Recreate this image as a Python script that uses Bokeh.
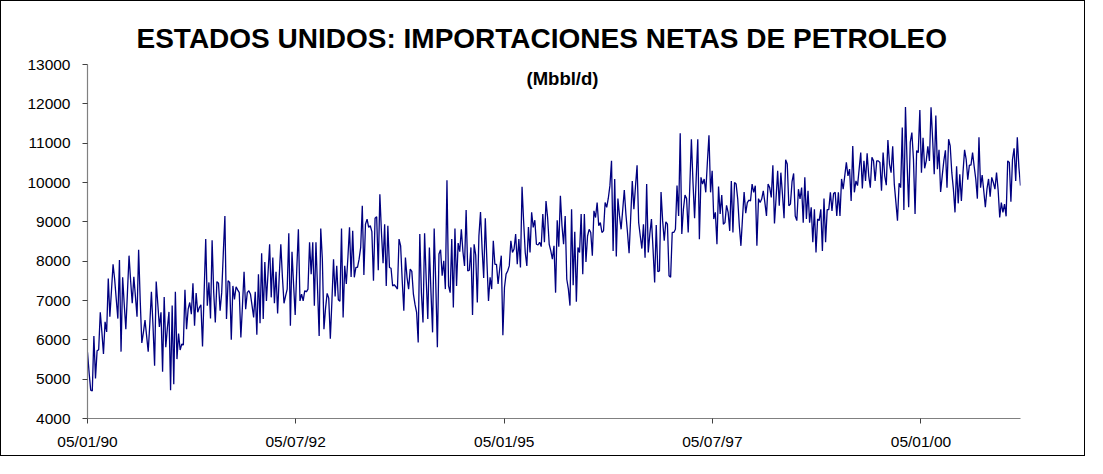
import pandas as pd
from bokeh.plotting import figure
from bokeh.models import Range1d, FixedTicker, DatetimeTickFormatter, Label
from bokeh.embed import file_html
from bokeh.resources import INLINE

# Weekly US net petroleum imports (Mbbl/d), starting 05/01/1990
start_date = "1990-01-05"

imports_1990_91 = [5680, 5170, 4720, 4700, 6100, 5020, 5720, 5750, 6700, 6200, 5640, 6460, 6200, 7560,
                   6590, 7250, 7920, 7540, 7030, 6540, 8030, 5700, 7590, 6900, 6270, 7200, 8140, 7500,
                   6930, 7600, 7100, 6590, 8290, 7000, 5920, 6190, 6500, 6100, 5700, 6400, 7220, 6360,
                   5340, 7480, 6910, 6330, 6700, 5190, 7090, 5810, 6300, 6710, 4720]
imports_1991_92 = [6870, 4870, 7220, 5510, 6160, 5740, 5890, 5870, 7270, 6270, 6780, 6950, 6650, 7440,
                   6360, 7190, 6700, 6820, 6890, 5830, 7200, 8560, 6870, 7460, 6540, 8530, 7200, 6440,
                   7480, 7440, 6740, 7200, 8200, 9150, 6530, 7500, 7460, 6000, 7370, 7030, 7350, 7270,
                   7200, 6060, 6870, 7730, 6780, 7200, 7250, 7160, 6870, 6570, 7220]
imports_1992_93 = [6130, 7670, 6420, 8200, 6530, 7980, 6990, 7700, 8430, 7080, 8090, 6930, 7730, 6670,
                   7600, 8430, 7600, 6930, 7120, 7290, 8710, 6360, 8240, 7400, 6630, 7800, 8810, 6990,
                   7160, 6990, 7250, 7220, 7290, 8480, 7670, 8480, 6870, 8480, 7290, 6100, 8830, 8050,
                   6270, 6800, 7180, 7060, 6030, 7000, 8050, 7100, 7880, 7020, 6980]
imports_1993_94 = [8830, 6570, 7880, 7420, 8100, 8860, 7600, 8770, 7590, 7840, 7840, 8050, 8350, 9410,
                   7650, 8940, 9070, 8860, 8900, 8750, 7500, 9090, 9130, 7770, 9700, 8730, 7950, 8940,
                   7370, 8900, 7840, 7820, 7370, 7400, 7350, 7290, 8560, 8390, 7500, 6740, 8090, 7590,
                   7290, 7800, 7740, 7160, 6900, 6700, 5930, 8690, 7200, 6440, 8710]
imports_1994_95 = [7540, 6530, 8350, 7200, 6190, 8830, 7420, 5810, 8180, 8290, 7630, 8010, 7290, 10060,
                   7370, 7200, 8560, 6820, 8830, 7370, 8460, 8240, 8810, 8240, 7880, 9300, 7750, 7770,
                   8350, 6630, 8430, 8150, 6950, 8640, 9250, 8310, 7570, 9090, 8000, 6990, 7590, 7290,
                   8520, 7920, 7920, 7420, 7800, 8140, 6120, 7330, 7670, 7750, 7880]
imports_1995_96 = [8520, 8220, 8310, 8690, 7920, 8560, 7840, 9890, 9000, 8220, 7880, 8870, 8220, 9240,
                   8860, 9040, 8430, 8410, 8480, 8370, 9200, 8480, 9530, 9110, 8430, 8260, 8050, 8390,
                   7200, 9040, 8370, 9660, 8900, 8430, 9150, 7540, 7290, 6870, 9320, 7390, 8750, 6970,
                   8350, 8220, 9200, 7670, 9200, 7980, 8640, 8810, 8730, 8140, 9280]
imports_1996_97 = [9110, 9490, 8900, 8980, 8730, 8770, 9490, 9370, 9600, 9920, 10550, 8260, 10090, 8120,
                   9590, 9150, 8810, 9300, 9810, 9200, 8730, 8200, 9100, 10040, 9320, 9900, 10440, 8980,
                   8640, 8320, 8940, 8090, 9960, 8220, 8700, 9070, 8300, 7460, 8920, 7730, 7750, 9760,
                   9030, 8520, 9000, 8940, 7630, 7590, 8730, 8730, 8810, 9920, 9150]
imports_1997_98 = [11250, 8690, 9320, 9680, 9590, 8730, 9900, 11100, 10000, 9090, 10100, 11100, 8560,
                   10130, 9960, 10090, 9750, 10510, 11200, 9750, 10300, 9070, 9240, 8430, 9900, 9200,
                   9680, 8940, 8980, 9420, 9240, 8770, 10040, 8730, 10000, 9960, 9580, 8900, 8390, 9100,
                   9760, 9220, 9490, 9550, 9530, 9960, 9750, 9920, 8390, 9590, 9490, 9580, 9790]
imports_1998_99 = [9490, 9150, 9960, 9870, 9620, 10440, 8960, 9600, 10300, 9410, 10250, 9700, 9090,
                   10580, 10470, 9410, 9450, 10020, 10230, 9150, 9030, 9830, 9580, 9870, 8980, 10130,
                   9070, 9790, 8980, 9370, 8480, 9320, 8220, 9070, 9030, 9320, 8260, 9590, 8480, 9310,
                   9310, 9750, 9280, 9720, 9750, 9150, 9750, 9150, 10090, 9830, 10170, 10510, 10170]
imports_1999_00 = [10340, 9530, 10930, 9750, 10040, 9920, 10340, 10760, 9850, 10550, 10040, 10740,
                   10170, 9870, 10640, 10550, 10040, 10550, 10550, 10510, 9790, 10760, 10170, 9930,
                   11080, 10470, 10250, 10920, 9960, 9500, 9030, 9980, 9870, 11400, 9300, 11920, 10510,
                   9370, 11020, 11270, 10590, 9200, 10810, 10760, 11840, 10250, 11140, 10360, 10550,
                   10920, 10550, 11910, 11100]
imports_2000_01 = [10210, 11700, 10340, 10830, 9760, 10170, 10550, 10820, 9870, 11100, 10930, 10250,
                   9830, 9240, 10410, 9470, 10210, 9530, 10250, 10830, 10590, 10070, 10440, 10440,
                   10760, 10410, 10090, 9590, 11150, 9870, 10190, 9790, 9370, 9830, 10090, 9640, 10130,
                   10000, 9830, 10250, 9810, 9110, 9490, 9240, 9450, 9140, 10550, 10510, 9510, 10590,
                   10870, 10040, 11150, 10380, 9920]

net_imports = (imports_1990_91 + imports_1991_92 + imports_1992_93 + imports_1993_94 +
               imports_1994_95 + imports_1995_96 + imports_1996_97 + imports_1997_98 +
               imports_1998_99 + imports_1999_00 + imports_2000_01)
weeks = pd.date_range(start_date, periods=len(net_imports), freq="7D")

x_tick_labels = ["05/01/90", "05/07/92", "05/01/95", "05/07/97", "05/01/00"]
y_ticks = [4000, 5000, 6000, 7000, 8000, 9000, 10000, 11000, 12000, 13000]

title_text = "ESTADOS UNIDOS: IMPORTACIONES NETAS DE PETROLEO"
subtitle_text = "(Mbbl/d)"

x_tick_ms = [pd.Timestamp(pd.to_datetime(s, format="%d/%m/%y")).value // 10**6 for s in x_tick_labels]

FONT = "Liberation Sans"

p = figure(width=1085, height=456, x_axis_type="datetime",
           output_backend="svg", toolbar_location=None,
           x_range=Range1d(weeks[0].to_pydatetime(), weeks[-1].to_pydatetime()),
           y_range=Range1d(y_ticks[0], y_ticks[-1]),
           min_border_left=86, min_border_right=66, min_border_top=63, min_border_bottom=39)
p.styles = {"border": "1px solid black"}
p.background_fill_color = "white"
p.border_fill_color = "white"
p.outline_line_color = None
p.xgrid.visible = False
p.ygrid.visible = False

p.title.text = title_text
p.title.text_font = FONT
p.title.text_font_style = "bold"
p.title.text_font_size = "28px"
p.title.text_color = "black"
p.title.align = "left"
p.title.offset = 49
p.title.standoff = 21

p.line(weeks, net_imports, line_color="#000080", line_width=1.3)

for ax in (p.xaxis[0], p.yaxis[0]):
    ax.axis_line_color = "#808080"
    ax.axis_line_width = 1.2
    ax.major_tick_line_color = "#404040"
    ax.major_tick_out = 5
    ax.major_tick_in = 0
    ax.minor_tick_out = 0
    ax.minor_tick_in = 0
    ax.major_label_text_font = FONT
    ax.major_label_text_font_size = "15.5px"
    ax.major_label_text_color = "black"

p.yaxis.ticker = FixedTicker(ticks=y_ticks)
p.yaxis.major_label_standoff = 12
p.xaxis.ticker = FixedTicker(ticks=x_tick_ms)
fmt = "%d/%m/%y"
p.xaxis.formatter = DatetimeTickFormatter(microseconds=fmt, milliseconds=fmt, seconds=fmt, minsec=fmt,
                                          minutes=fmt, hourmin=fmt, hours=fmt, days=fmt,
                                          months=fmt, years=fmt)
p.xaxis.major_label_standoff = 9

p.add_layout(Label(x=475, y=340, x_units="screen", y_units="screen", text=subtitle_text,
                   text_font=FONT, text_font_style="bold", text_font_size="18.5px",
                   text_align="center", text_baseline="middle", text_color="black"))

open("out.html", "w").write(file_html(p, INLINE))
